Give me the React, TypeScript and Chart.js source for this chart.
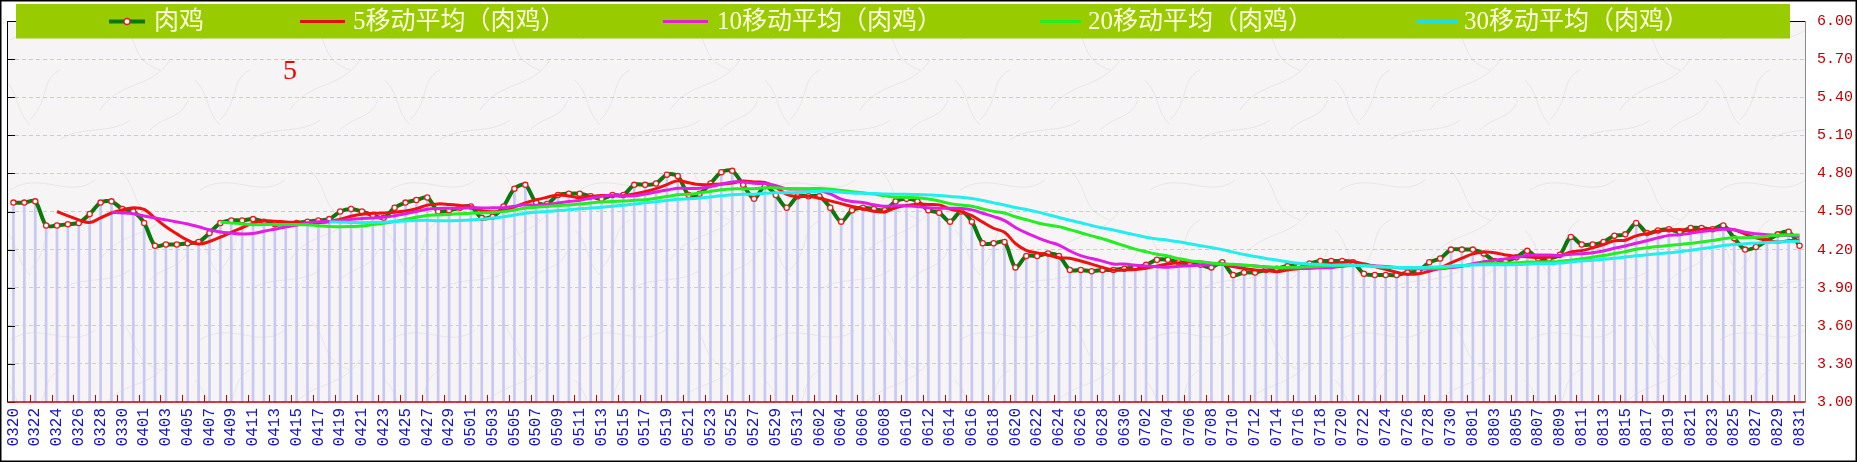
import React, { useEffect, useRef } from 'react';
import { Chart, registerables } from 'chart.js';

Chart.register(...registerables);

const dates = [
  '0320','0321','0322','0323','0324','0325','0326','0327','0328','0329','0330','0331',
  '0401','0402','0403','0404','0405','0406','0407','0408','0409','0410','0411','0412','0413','0414','0415',
  '0416','0417','0418','0419','0420','0421','0422','0423','0424','0425','0426','0427','0428','0429','0430',
  '0501','0502','0503','0504','0505','0506','0507','0508','0509','0510','0511','0512','0513','0514','0515',
  '0516','0517','0518','0519','0520','0521','0522','0523','0524','0525','0526','0527','0528','0529','0530','0531',
  '0601','0602','0603','0604','0605','0606','0607','0608','0609','0610','0611','0612','0613','0614','0615',
  '0616','0617','0618','0619','0620','0621','0622','0623','0624','0625','0626','0627','0628','0629','0630',
  '0701','0702','0703','0704','0705','0706','0707','0708','0709','0710','0711','0712','0713','0714','0715',
  '0716','0717','0718','0719','0720','0721','0722','0723','0724','0725','0726','0727','0728','0729','0730','0731',
  '0801','0802','0803','0804','0805','0806','0807','0808','0809','0810','0811','0812','0813','0814','0815',
  '0816','0817','0818','0819','0820','0821','0822','0823','0824','0825','0826','0827','0828','0829','0830','0831'
];

const broiler = [
  4.57,4.57,4.58,4.39,4.39,4.40,4.41,4.48,4.57,4.58,
  4.52,4.50,4.41,4.23,4.24,4.24,4.25,4.26,4.33,4.41,
  4.43,4.43,4.44,4.42,4.40,4.40,4.41,4.42,4.43,4.44,
  4.50,4.52,4.50,4.47,4.45,4.53,4.57,4.59,4.61,4.50,
  4.51,4.53,4.54,4.45,4.46,4.54,4.68,4.71,4.57,4.56,
  4.63,4.64,4.64,4.62,4.60,4.63,4.63,4.71,4.71,4.72,
  4.79,4.78,4.63,4.64,4.72,4.81,4.82,4.71,4.60,4.70,
  4.63,4.53,4.62,4.62,4.62,4.53,4.42,4.51,4.53,4.52,
  4.51,4.58,4.60,4.58,4.51,4.49,4.42,4.50,4.42,4.25,
  4.25,4.26,4.06,4.15,4.15,4.17,4.15,4.04,4.04,4.03,
  4.04,4.04,4.05,4.06,4.08,4.12,4.12,4.10,4.09,4.08,
  4.06,4.10,4.00,4.02,4.02,4.04,4.05,4.07,4.07,4.09,
  4.11,4.11,4.11,4.10,4.01,4.00,4.00,4.00,4.02,4.03,
  4.10,4.13,4.20,4.20,4.20,4.17,4.11,4.11,4.14,4.19,
  4.13,4.13,4.16,4.30,4.24,4.24,4.26,4.31,4.32,4.41,
  4.33,4.35,4.36,4.34,4.37,4.37,4.36,4.39,4.29,4.20,
  4.22,4.27,4.32,4.34,4.23
];

const ma5 = [
  null,null,null,null,4.500,4.466,4.434,4.414,4.450,4.488,
  4.512,4.530,4.516,4.448,4.380,4.324,4.274,4.244,4.264,4.298,
  4.336,4.372,4.408,4.426,4.424,4.418,4.414,4.410,4.412,4.420,
  4.440,4.462,4.478,4.486,4.488,4.494,4.504,4.522,4.550,4.560,
  4.556,4.548,4.538,4.506,4.498,4.504,4.534,4.568,4.592,4.612,
  4.630,4.622,4.608,4.618,4.626,4.626,4.624,4.638,4.656,4.680,
  4.712,4.742,4.726,4.712,4.712,4.716,4.724,4.740,4.732,4.728,
  4.692,4.634,4.616,4.620,4.604,4.584,4.562,4.540,4.522,4.502,
  4.498,4.530,4.548,4.558,4.556,4.552,4.520,4.500,4.468,4.416,
  4.368,4.336,4.248,4.194,4.174,4.158,4.136,4.132,4.110,4.086,
  4.060,4.038,4.040,4.044,4.054,4.070,4.086,4.096,4.102,4.102,
  4.090,4.086,4.066,4.052,4.040,4.036,4.026,4.040,4.050,4.064,
  4.078,4.090,4.098,4.104,4.088,4.066,4.044,4.022,4.006,4.010,
  4.030,4.056,4.096,4.132,4.166,4.180,4.176,4.158,4.146,4.144,
  4.136,4.140,4.150,4.182,4.192,4.214,4.240,4.270,4.274,4.308,
  4.326,4.344,4.354,4.358,4.350,4.358,4.360,4.366,4.356,4.322,
  4.292,4.274,4.260,4.270,4.276
];

const ma10 = [
  null,null,null,null,null,null,null,null,null,4.494,
  4.489,4.482,4.465,4.449,4.434,4.418,4.402,4.380,4.356,4.339,
  4.330,4.323,4.326,4.345,4.361,4.377,4.393,4.409,4.419,4.422,
  4.429,4.438,4.444,4.449,4.454,4.467,4.483,4.500,4.518,4.524,
  4.525,4.526,4.530,4.528,4.529,4.530,4.541,4.553,4.549,4.555,
  4.567,4.578,4.588,4.605,4.619,4.628,4.623,4.623,4.637,4.653,
  4.669,4.683,4.682,4.684,4.696,4.714,4.733,4.733,4.722,4.720,
  4.704,4.679,4.678,4.676,4.666,4.638,4.598,4.578,4.571,4.553,
  4.541,4.546,4.544,4.540,4.529,4.525,4.525,4.524,4.513,4.486,
  4.460,4.428,4.374,4.331,4.295,4.263,4.236,4.190,4.152,4.130,
  4.109,4.087,4.086,4.077,4.070,4.065,4.062,4.068,4.073,4.078,
  4.080,4.086,4.081,4.077,4.071,4.063,4.056,4.053,4.051,4.052,
  4.057,4.058,4.069,4.077,4.076,4.072,4.067,4.060,4.055,4.049,
  4.048,4.050,4.059,4.069,4.088,4.105,4.116,4.127,4.139,4.155,
  4.158,4.158,4.154,4.164,4.168,4.175,4.190,4.210,4.228,4.250,
  4.270,4.292,4.312,4.316,4.329,4.342,4.352,4.360,4.357,4.336,
  4.325,4.317,4.313,4.313,4.299
];

const ma20 = [
  null,null,null,null,null,null,null,null,null,null,
  null,null,null,null,null,null,null,null,null,4.417,
  4.410,4.403,4.396,4.397,4.398,4.398,4.398,4.395,4.388,4.381,
  4.380,4.381,4.385,4.397,4.408,4.422,4.438,4.455,4.469,4.473,
  4.477,4.482,4.487,4.489,4.492,4.499,4.512,4.527,4.534,4.540,
  4.546,4.552,4.559,4.567,4.574,4.579,4.582,4.588,4.593,4.604,
  4.618,4.631,4.635,4.645,4.658,4.671,4.678,4.678,4.680,4.687,
  4.687,4.681,4.680,4.680,4.681,4.676,4.666,4.656,4.647,4.637,
  4.623,4.613,4.611,4.608,4.598,4.582,4.562,4.551,4.542,4.520,
  4.501,4.487,4.459,4.436,4.412,4.394,4.381,4.357,4.333,4.308,
  4.285,4.258,4.230,4.204,4.183,4.164,4.149,4.129,4.113,4.104,
  4.095,4.087,4.084,4.077,4.071,4.064,4.059,4.061,4.062,4.065,
  4.069,4.072,4.075,4.077,4.074,4.068,4.062,4.057,4.053,4.051,
  4.053,4.054,4.064,4.073,4.082,4.089,4.092,4.094,4.097,4.102,
  4.103,4.104,4.107,4.117,4.128,4.140,4.153,4.169,4.184,4.203,
  4.214,4.225,4.233,4.240,4.249,4.259,4.271,4.285,4.293,4.293,
  4.298,4.305,4.313,4.315,4.314
];

const ma30 = [
  null,null,null,null,null,null,null,null,null,null,
  null,null,null,null,null,null,null,null,null,null,
  null,null,null,null,null,null,null,null,null,4.418,
  4.416,4.414,4.412,4.414,4.416,4.421,4.426,4.430,4.431,4.428,
  4.428,4.429,4.433,4.441,4.448,4.458,4.472,4.487,4.495,4.500,
  4.507,4.514,4.521,4.527,4.534,4.542,4.549,4.559,4.568,4.577,
  4.587,4.596,4.600,4.606,4.615,4.624,4.632,4.636,4.636,4.643,
  4.647,4.647,4.649,4.655,4.660,4.660,4.651,4.645,4.643,4.642,
  4.638,4.636,4.635,4.633,4.630,4.626,4.619,4.612,4.602,4.586,
  4.568,4.551,4.532,4.516,4.497,4.475,4.453,4.431,4.412,4.390,
  4.370,4.354,4.335,4.316,4.298,4.284,4.274,4.261,4.246,4.231,
  4.216,4.200,4.180,4.162,4.145,4.130,4.118,4.104,4.092,4.087,
  4.082,4.077,4.079,4.077,4.072,4.067,4.062,4.060,4.060,4.060,
  4.062,4.065,4.070,4.074,4.078,4.080,4.080,4.080,4.082,4.085,
  4.088,4.089,4.094,4.103,4.111,4.117,4.124,4.132,4.141,4.151,
  4.159,4.167,4.175,4.183,4.195,4.207,4.219,4.232,4.241,4.247,
  4.251,4.256,4.260,4.264,4.265
];

const yTickValues = [3.0, 3.3, 3.6, 3.9, 4.2, 4.5, 4.8, 5.1, 5.4, 5.7, 6.0];

const seriesNames = ['肉鸡', '5移动平均（肉鸡）', '10移动平均（肉鸡）', '20移动平均（肉鸡）', '30移动平均（肉鸡）'];
const annotationText = '5';

function makePaperPattern(ctx: CanvasRenderingContext2D) {
  const tile = document.createElement('canvas');
  tile.width = 190;
  tile.height = 150;
  const t = tile.getContext('2d') as CanvasRenderingContext2D;
  t.fillStyle = '#f6f4f4';
  t.fillRect(0, 0, tile.width, tile.height);
  t.strokeStyle = 'rgba(150,145,145,0.2)';
  t.lineWidth = 0.8;
  const strokes = [
    [10, 40, 40, 20, 70, 50, 95, 30],
    [100, 110, 120, 80, 150, 90, 170, 60],
    [30, 120, 50, 100, 40, 80, 60, 70],
    [120, 20, 140, 40, 130, 60, 160, 70],
    [60, 140, 80, 125, 110, 135, 130, 120],
    [5, 80, 20, 95, 15, 110, 30, 125],
    [150, 130, 165, 115, 180, 120, 188, 100],
  ];
  strokes.forEach((s) => {
    t.beginPath();
    t.moveTo(s[0], s[1]);
    t.bezierCurveTo(s[2], s[3], s[4], s[5], s[6], s[7]);
    t.stroke();
  });
  return ctx.createPattern(tile, 'repeat');
}

export default function App() {
  const ref = useRef<HTMLCanvasElement>(null);

  useEffect(() => {
    document.body.style.margin = '0';
    const canvas = ref.current;
    if (!canvas) return;

    const colors = ['#0a780a', '#ee1111', '#e21ee2', '#22ee22', '#22eeee'];
    const legendColors = ['#0a780a', '#e01010', '#dd22cc', '#22ee22', '#22dddd'];
    const legendLineX = [[109, 145], [300, 345], [663, 708], [1040, 1081], [1417, 1458]];
    const legendTextX = [154, 353, 717, 1088, 1464];
    let pattern: CanvasPattern | null = null;

    const framePlugin = {
      id: 'framePlugin',
      beforeDraw(chart: any) {
        const { ctx, chartArea } = chart;
        if (!pattern) pattern = makePaperPattern(ctx);
        ctx.save();
        ctx.fillStyle = '#ffffff';
        ctx.fillRect(0, 0, chart.width, chart.height);
        ctx.fillStyle = pattern || '#f6f4f4';
        ctx.fillRect(chartArea.left, chartArea.top, chartArea.right - chartArea.left, chartArea.bottom - chartArea.top);
        ctx.restore();
      },
      afterDraw(chart: any) {
        const { ctx, chartArea, scales } = chart;
        const { left, right, top, bottom } = chartArea;
        const x = scales.x;
        const y = scales.y;
        ctx.save();

        ctx.strokeStyle = '#000';
        ctx.lineWidth = 1.5;
        ctx.strokeRect(0.75, 0.75, chart.width - 1.5, chart.height - 1.5);

        ctx.lineWidth = 1;
        ctx.strokeStyle = '#000';
        ctx.beginPath();
        ctx.moveTo(left - 0.5, top);
        ctx.lineTo(left - 0.5, bottom);
        ctx.moveTo(left, top + 0.5);
        ctx.lineTo(right, top + 0.5);
        ctx.stroke();

        ctx.strokeStyle = '#8a8a8a';
        ctx.beginPath();
        ctx.moveTo(right + 0.5, top);
        ctx.lineTo(right + 0.5, bottom);
        ctx.stroke();

        ctx.strokeStyle = '#000';
        ctx.beginPath();
        yTickValues.forEach((v) => {
          const py = Math.round(y.getPixelForValue(v)) + 0.5;
          ctx.moveTo(left - 0.5, py);
          ctx.lineTo(left + 7, py);
        });
        ctx.stroke();

        ctx.strokeStyle = '#cc0000';
        ctx.lineWidth = 1.5;
        ctx.beginPath();
        ctx.moveTo(left - 0.5, bottom);
        ctx.lineTo(right + 0.5, bottom);
        ctx.stroke();
        ctx.lineWidth = 1;
        ctx.beginPath();
        for (let i = 1; i + 1 < dates.length; i += 2) {
          const px = Math.round((x.getPixelForValue(i) + x.getPixelForValue(i + 1)) / 2) + 0.5;
          ctx.moveTo(px, bottom);
          ctx.lineTo(px, bottom - 7);
        }
        ctx.stroke();

        ctx.fillStyle = '#99cc00';
        ctx.fillRect(16, 4, 1774, 34.5);
        ctx.font = '25px "Liberation Serif", "Noto Sans CJK SC", serif';
        ctx.textBaseline = 'middle';
        ctx.textAlign = 'left';
        const ly = 21.5;
        seriesNames.forEach((name, k) => {
          ctx.strokeStyle = legendColors[k];
          ctx.lineWidth = k === 0 ? 4 : 3;
          ctx.beginPath();
          ctx.moveTo(legendLineX[k][0], ly);
          ctx.lineTo(legendLineX[k][1], ly);
          ctx.stroke();
          if (k === 0) {
            ctx.beginPath();
            ctx.arc((legendLineX[k][0] + legendLineX[k][1]) / 2, ly, 3, 0, Math.PI * 2);
            ctx.fillStyle = '#ffffff';
            ctx.fill();
            ctx.lineWidth = 1.3;
            ctx.strokeStyle = '#e02020';
            ctx.stroke();
          }
          ctx.fillStyle = '#ffffdd';
          ctx.fillText(name, legendTextX[k], ly + 1);
        });

        ctx.fillStyle = '#ee0000';
        ctx.font = '28px "Liberation Serif", serif';
        ctx.textAlign = 'center';
        ctx.fillText(annotationText, 290, 72);

        ctx.restore();
      },
    };

    const lineDs = (label: string, data: (number | null)[], color: string, order: number, extra: any = {}) => ({
      type: 'line' as const,
      label,
      data,
      borderColor: color,
      backgroundColor: color,
      borderWidth: 3,
      pointRadius: 0,
      tension: 0.4,
      fill: false,
      order,
      ...extra,
    });

    const chart = new Chart(canvas, {
      type: 'bar',
      data: {
        labels: dates,
        datasets: [
          {
            type: 'bar',
            label: 'drop',
            data: broiler,
            backgroundColor: '#c8c8f6',
            barThickness: 2,
            order: 10,
          } as any,
          lineDs(seriesNames[0], broiler, colors[0], 6, {
            borderWidth: 4,
            tension: 0.3,
            pointRadius: 2.6,
            pointBackgroundColor: '#ffffff',
            pointBorderColor: '#e02020',
            pointBorderWidth: 1.3,
          }),
          lineDs(seriesNames[1], ma5, colors[1], 5),
          lineDs(seriesNames[2], ma10, colors[2], 4),
          lineDs(seriesNames[3], ma20, colors[3], 3),
          lineDs(seriesNames[4], ma30, colors[4], 2),
        ],
      },
      options: {
        responsive: false,
        animation: false,
        devicePixelRatio: 1,
        layout: { padding: { left: 8, top: 3, right: 0, bottom: 0 } },
        plugins: {
          legend: { display: false },
          tooltip: { enabled: false },
        },
        scales: {
          x: {
            type: 'category',
            offset: true,
            grid: { display: false, drawTicks: false },
            border: { display: false },
            ticks: {
              autoSkip: false,
              maxRotation: 90,
              minRotation: 90,
              padding: 6,
              color: '#1414c8',
              font: { family: '"Liberation Mono", monospace', size: 16 },
              callback: (_v: any, i: number) => (i % 2 === 0 ? dates[i] : ''),
            },
            afterFit: (s: any) => {
              s.height = 60;
            },
          },
          y: {
            position: 'right',
            min: 3,
            max: 6,
            grid: { color: '#c8c8ee', drawTicks: false },
            border: { display: false, dash: [4, 3] },
            ticks: {
              color: '#c00000',
              padding: 12,
              font: { family: '"Liberation Mono", monospace', size: 15 },
              callback: (v: any) => Number(v).toFixed(2),
            },
            afterBuildTicks: (s: any) => {
              s.ticks = yTickValues.map((v) => ({ value: v }));
            },
            afterFit: (s: any) => {
              s.width = 52;
            },
          },
        },
      } as any,
      plugins: [framePlugin],
    });

    return () => chart.destroy();
  }, []);

  return (
    <div style={{ position: 'absolute', left: 0, top: 0, width: 1857, height: 462 }}>
      <canvas ref={ref} width={1857} height={462} style={{ display: 'block' }} />
    </div>
  );
}
